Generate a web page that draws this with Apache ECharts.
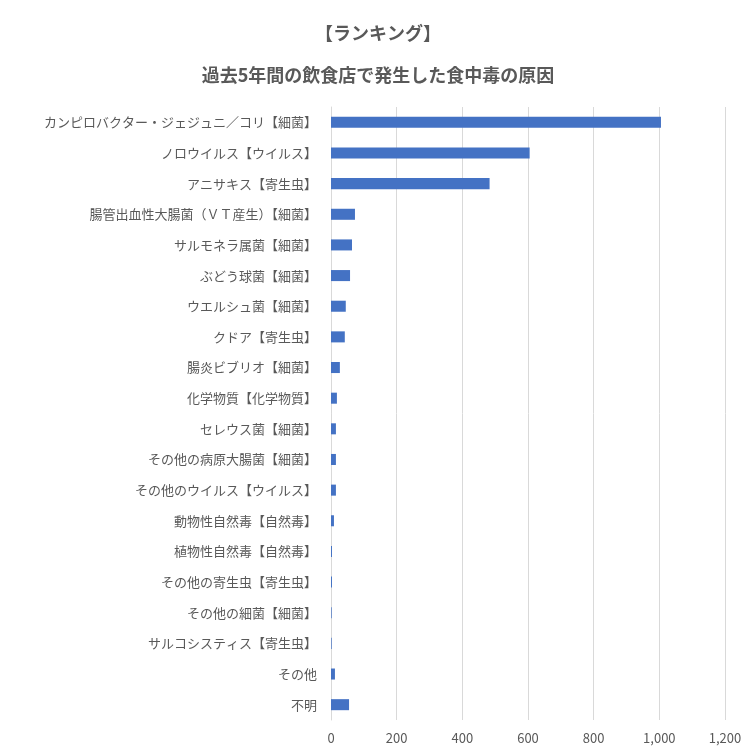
<!DOCTYPE html>
<html>
<head>
<meta charset="utf-8">
<script src="https://cdn.jsdelivr.net/npm/echarts@6/dist/echarts.min.js"></script>
<style>
  html, body { margin: 0; padding: 0; background: #fff; }
  #main { width: 756px; height: 756px; }
</style>
</head>
<body>
<div id="main"></div>
<script>
var categories = [
    'カンピロバクター・ジェジュニ／コリ【細菌】',
    'ノロウイルス【ウイルス】',
    'アニサキス【寄生虫】',
    '腸管出血性大腸菌（ＶＴ産生）【細菌】',
    'サルモネラ属菌【細菌】',
    'ぶどう球菌【細菌】',
    'ウエルシュ菌【細菌】',
    'クドア【寄生虫】',
    '腸炎ビブリオ【細菌】',
    '化学物質【化学物質】',
    'セレウス菌【細菌】',
    'その他の病原大腸菌【細菌】',
    'その他のウイルス【ウイルス】',
    '動物性自然毒【自然毒】',
    '植物性自然毒【自然毒】',
    'その他の寄生虫【寄生虫】',
    'その他の細菌【細菌】',
    'サルコシスティス【寄生虫】',
    'その他',
    '不明'
];
var values = [1005, 605, 483, 73, 64, 58, 45, 42, 27, 18, 15, 15, 15, 9, 3, 3, 2, 2, 12, 55];
var titleLines = ['【ランキング】', '過去5年間の飲食店で発生した食中毒の原因'];

var font = '"Noto Sans CJK JP", "Noto Sans", sans-serif';
var myChart = echarts.init(document.getElementById('main'));
var option = {
    textStyle: { fontFamily: font },
    title: {
        text: titleLines.join('\n\n'),
        left: 'center',
        top: 18,
        textStyle: { fontSize: 18, fontWeight: 'bold', color: '#595959', lineHeight: 21, fontFamily: font }
    },
    grid: { left: 331, right: 31, top: 107, bottom: 36 },
    xAxis: {
        type: 'value',
        min: 0,
        max: 1200,
        interval: 200,
        axisLine: { show: false },
        axisTick: { show: false },
        axisLabel: { color: '#595959', fontSize: 13, margin: 12 },
        splitLine: { lineStyle: { color: '#d9d9d9' } }
    },
    yAxis: {
        type: 'category',
        inverse: true,
        data: categories,
        axisLine: { lineStyle: { color: '#d9d9d9' } },
        axisTick: { show: false },
        axisLabel: { color: '#595959', fontSize: 13, margin: 14 }
    },
    series: [{
        type: 'bar',
        data: values,
        barWidth: '36%',
        itemStyle: { color: '#4472C4' }
    }]
};
myChart.setOption(option);
</script>
</body>
</html>
